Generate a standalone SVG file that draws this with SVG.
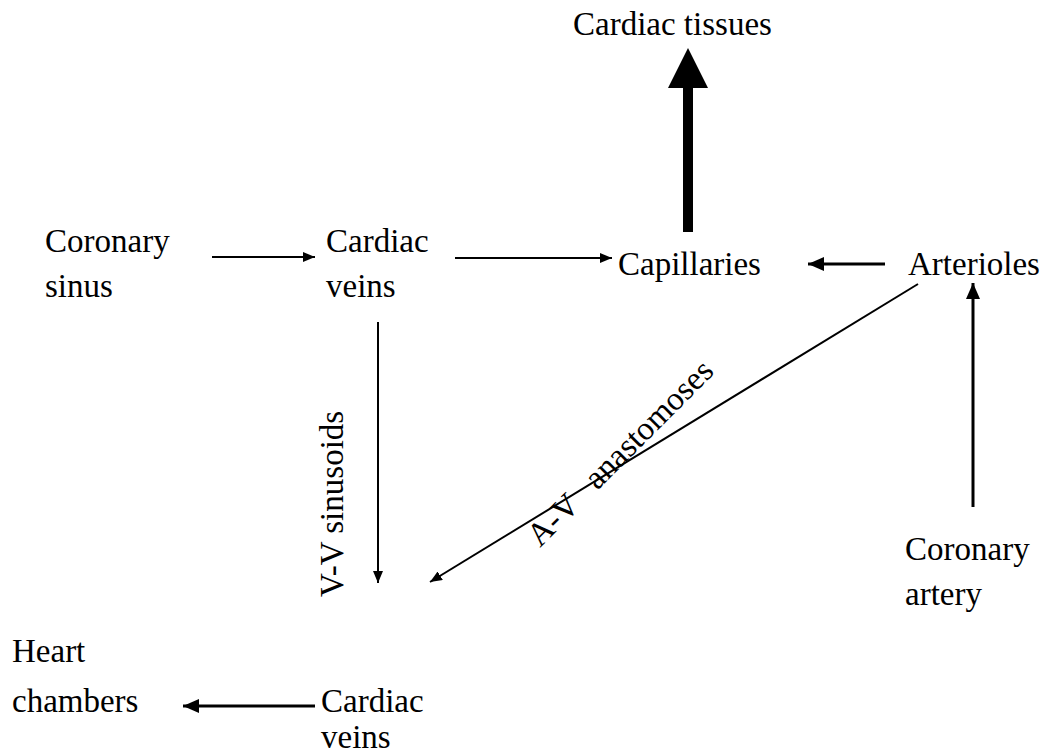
<svg xmlns="http://www.w3.org/2000/svg" width="1053" height="754" viewBox="0 0 1053 754">
<style>
text{font-family:'Liberation Serif','Times New Roman','DejaVu Serif',serif;font-size:33px;fill:#000}
.c{stroke:#000;stroke-width:2;fill:none}
.t{stroke:#000;stroke-width:3;fill:none}
</style>
<defs>
<marker id="ah" viewBox="0 0 12 10" refX="12" refY="5" markerWidth="12" markerHeight="10" markerUnits="userSpaceOnUse" orient="auto">
<path d="M0,0 L12,5 L0,10 z" fill="#000"/>
</marker>
<marker id="ahb" viewBox="0 0 16 14" refX="16" refY="7" markerWidth="16" markerHeight="14" markerUnits="userSpaceOnUse" orient="auto">
<path d="M0,0 L16,7 L0,14 z" fill="#000"/>
</marker>
</defs>
<rect width="1053" height="754" fill="#fff"/>
<g id="cardiac-tissues"><text x="573" y="35" font-size="31">Cardiac tissues</text></g>
<g id="coronary-sinus"><text x="45" y="252">Coronary</text><text x="45" y="297">sinus</text></g>
<g id="cardiac-veins-top"><text x="326" y="252">Cardiac</text><text x="326" y="297">veins</text></g>
<g id="capillaries"><text x="618" y="275">Capillaries</text></g>
<g id="arterioles"><text x="908" y="275">Arterioles</text></g>
<g id="coronary-artery"><text x="905" y="560">Coronary</text><text x="905" y="605">artery</text></g>
<g id="heart-chambers"><text x="12" y="662">Heart</text><text x="12" y="712">chambers</text></g>
<g id="cardiac-veins-bottom"><text x="321" y="712">Cardiac</text><text x="321" y="748">veins</text></g>
<g id="connectors">
<rect x="683" y="86" width="10" height="146" fill="#000"/>
<polygon points="668,88 708,88 688,48" fill="#000"/>
<line class="c" x1="212" y1="257" x2="315" y2="257" marker-end="url(#ah)"/>
<line class="c" x1="455" y1="258" x2="612" y2="258" marker-end="url(#ah)"/>
<line class="t" x1="885" y1="264" x2="808" y2="264" marker-end="url(#ahb)"/>
<line class="t" x1="973" y1="507" x2="973" y2="283" marker-end="url(#ahb)"/>
<line class="c" x1="378" y1="322" x2="378" y2="583" marker-end="url(#ah)"/>
<line class="c" x1="918" y1="284" x2="430" y2="582" marker-end="url(#ah)"/>
<line class="t" x1="315" y1="706" x2="183" y2="706" marker-end="url(#ahb)"/>
<text transform="translate(343,597) rotate(-90)">V-V sinusoids</text>
<text transform="translate(540,548) rotate(-45)" font-size="31">A-V<tspan dx="26">anastomoses</tspan></text>
</g>
</svg>
